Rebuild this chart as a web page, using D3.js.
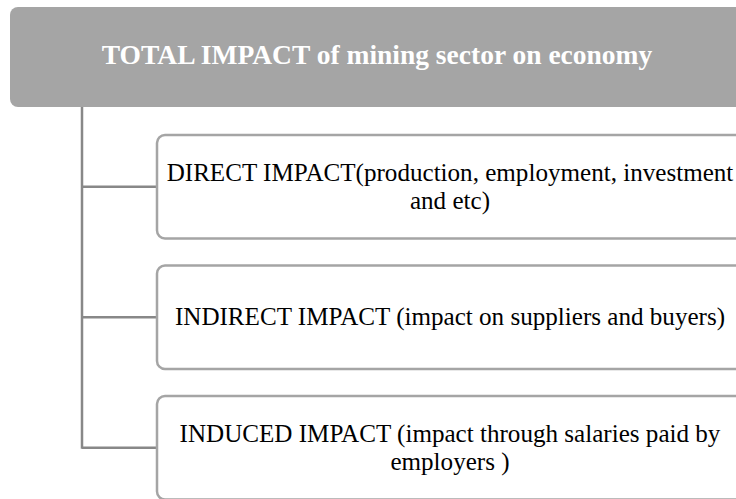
<!DOCTYPE html>
<html>
<head>
<meta charset="utf-8">
<script src="https://cdn.jsdelivr.net/npm/d3@7"></script>
<style>
  html, body { margin: 0; padding: 0; background: #ffffff; overflow: hidden; }
  svg { display: block; }
  svg text { font-family: "Liberation Serif", "Times New Roman", Times, "Nimbus Roman", "Tinos", "DejaVu Serif", serif; }
</style>
</head>
<body>
<div id="chart"></div>
<script>
// ---- Data ----
const titleText = "TOTAL IMPACT of mining sector on economy";
const itemIds = ["direct", "indirect", "induced"];
const itemLines = [
  ["DIRECT IMPACT(production, employment, investment", "and etc)"],
  ["INDIRECT IMPACT (impact on suppliers and buyers)"],
  ["INDUCED IMPACT (impact through salaries paid by", "employers )"]
];

// ---- Layout ----
const W = 736, H = 499;
const svg = d3.select("#chart").append("svg")
  .attr("width", W).attr("height", H);

const header = { x0: 10, x1: 744, y0: 7, y1: 107 };
const trunkX = 82;
const boxX0 = 157, boxX1 = 745;
const lineStep = 28;

const y = d3.scaleBand()
  .domain(itemIds)
  .range([135, 499.5])
  .paddingInner(0.207)
  .paddingOuter(0);

// header box
svg.append("rect")
  .attr("x", header.x0).attr("y", header.y0)
  .attr("width", header.x1 - header.x0).attr("height", header.y1 - header.y0)
  .attr("rx", 8).attr("ry", 8)
  .attr("fill", "#a5a5a5");

svg.append("text")
  .attr("x", (header.x0 + header.x1) / 2)
  .attr("y", 64)
  .attr("text-anchor", "middle")
  .style("font-weight", "bold")
  .style("font-size", "27.5px")
  .attr("fill", "#ffffff")
  .text(titleText);

// connector lines
const lastCenter = y(itemIds[itemIds.length - 1]) + y.bandwidth() / 2;
svg.append("line")
  .attr("x1", trunkX).attr("x2", trunkX)
  .attr("y1", header.y1).attr("y2", lastCenter + 1)
  .attr("stroke", "#888888").attr("stroke-width", 2.5);

svg.selectAll("line.branch")
  .data(itemIds)
  .join("line")
  .attr("class", "branch")
  .attr("x1", trunkX).attr("x2", boxX0)
  .attr("y1", d => y(d) + y.bandwidth() / 2)
  .attr("y2", d => y(d) + y.bandwidth() / 2)
  .attr("stroke", "#888888").attr("stroke-width", 2.5);

// item boxes
const items = svg.selectAll("g.item")
  .data(itemIds.map((id, i) => ({ id, lines: itemLines[i] })))
  .join("g")
  .attr("class", "item");

items.append("rect")
  .attr("x", boxX0)
  .attr("y", d => y(d.id))
  .attr("width", boxX1 - boxX0)
  .attr("height", y.bandwidth())
  .attr("rx", 8).attr("ry", 8)
  .attr("fill", "#ffffff")
  .attr("stroke", "#a5a5a5")
  .attr("stroke-width", 2.5);

items.each(function (d) {
  const g = d3.select(this);
  const cy = y(d.id) + y.bandwidth() / 2;
  const n = d.lines.length;
  g.selectAll("text")
    .data(d.lines)
    .join("text")
    .attr("x", (boxX0 + boxX1) / 2 - 1)
    .attr("y", (t, i) => cy + 8 + (i - (n - 1) / 2) * lineStep)
    .attr("text-anchor", "middle")
    .style("font-size", "25.1px")
    .attr("fill", "#000000")
    .text(t => t);
});
</script>
</body>
</html>
